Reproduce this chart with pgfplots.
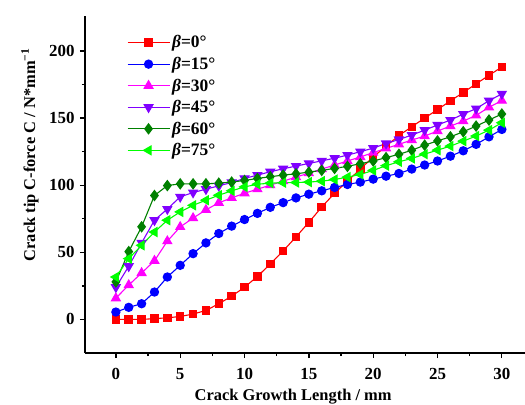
\documentclass[border=0pt]{standalone}
\usepackage{pgfplots}
\pgfplotsset{compat=1.18}
\usepackage{fontspec}
\setmainfont{Liberation Serif}
\definecolor{cRed}{RGB}{255,0,0}
\definecolor{cBlue}{RGB}{0,0,255}
\definecolor{cMag}{RGB}{255,0,255}
\definecolor{cPur}{RGB}{128,0,255}
\definecolor{cDG}{RGB}{0,128,0}
\definecolor{cLG}{RGB}{0,255,0}
\begin{document}
\begin{tikzpicture}
\begin{axis}[
  at={(0,0)}, anchor=south west,
  scale only axis, width=440bp, height=337bp,
  xmin=-2.4, xmax=31.8, ymin=-25, ymax=226,
  axis x line=bottom, axis y line=left,
  axis line style={-, line width=1.4bp},
  xtick={0,5,...,30}, ytick={0,50,...,200},
  minor tick num=1,
  tick align=outside,
  major tick length=5bp, minor tick length=3bp,
  tick style={line width=1.3bp, black},
  /pgf/number format/assume math mode=true,
  ticklabel style={font=\fontsize{17}{19}\selectfont\bfseries},
  xticklabel style={yshift=-7bp},
  yticklabel style={xshift=-2bp},
  xlabel={Crack Growth Length / mm},
  ylabel={Crack tip C-force C / N*mm\textsuperscript{−1}},
  label style={font=\fontsize{16.5}{18}\selectfont\bfseries},
  xlabel style={at={(axis description cs:0.473,-0.142)}, anchor=base},
  ylabel style={at={(axis description cs:-0.125,0.588)}, anchor=center},
  legend style={draw=none, fill=none, at={(axis description cs:0.095,0.948)}, anchor=north west,
    font=\fontsize{17.5}{19}\selectfont\bfseries, row sep=3.8bp, inner sep=0pt},
  legend cell align=left,
  legend image code/.code={\draw[mark repeat=2,mark phase=2] plot coordinates {(0bp,0bp) (21bp,0bp) (42bp,0bp)};},
  every axis plot/.append style={line width=1.1bp},
]
\addplot[cRed, mark=square*, mark size=3.7bp] coordinates {
(0,0) (1,0) (2,0) (3,0.6) (4,1.2) (5,2.2) (6,4) (7,6.7) (8,11.7) (9,17.3) (10,24)
(11,32) (12,41.3) (13,51) (14,61.5) (15,72.3) (16,83.7) (17,94) (18,103) (19,112) (20,121)
(21,129) (22,137) (23,143.5) (24,150) (25,156.3) (26,162.8) (27,169) (28,175.5) (29,181.8) (30,188)};
\addlegendentry{{\itshape β}=0°}
\addplot[cBlue, mark=*, mark size=4.1bp] coordinates {
(0,5.5) (1,9) (2,11.7) (3,20.4) (4,31.6) (5,40.3) (6,49) (7,57) (8,64) (9,69.5) (10,74.4)
(11,79) (12,83.5) (13,87) (14,90.5) (15,93.3) (16,95.8) (17,98.3) (18,100.5) (19,102.3) (20,104.5)
(21,106.7) (22,108.7) (23,112) (24,115) (25,118) (26,121.6) (27,125.6) (28,130.4) (29,136) (30,141.5)};
\addlegendentry{{\itshape β}=15°}
\addplot[cMag, mark=triangle*, mark size=5bp] coordinates {
(0,15.8) (1,25.6) (2,34.6) (3,43.7) (4,58.3) (5,68.9) (6,75.5) (7,81.6) (8,86.9) (9,90.5) (10,94)
(11,97) (12,100) (13,103) (14,106) (15,109) (16,112) (17,115) (18,118) (19,121) (20,124.2)
(21,127.4) (22,130.4) (23,133.6) (24,136.6) (25,140.3) (26,144) (27,147.7) (28,152) (29,158) (30,163)};
\addlegendentry{{\itshape β}=30°}
\addplot[cPur, mark=triangle*, mark options={rotate=180}, mark size=5bp] coordinates {
(0,24) (1,39.6) (2,57) (3,73.9) (4,82.2) (5,91.3) (6,94.5) (7,97) (8,99.5) (9,102) (10,105)
(11,107.5) (12,110) (13,112.2) (14,114.2) (15,116.2) (16,118.1) (17,120.1) (18,122.4) (19,124.9) (20,127.6)
(21,131) (22,134) (23,137.3) (24,141) (25,144.8) (26,148.5) (27,152.9) (28,157) (29,162.9) (30,168)};
\addlegendentry{{\itshape β}=45°}
\addplot[cDG, mark=diamond*, mark size=5bp] coordinates {
(0,28) (1,50.5) (2,69) (3,92.3) (4,99.7) (5,101) (6,101) (7,101) (8,101.5) (9,102.3) (10,103.5)
(11,105) (12,106.3) (13,107.5) (14,108.5) (15,109.7) (16,111) (17,112.5) (18,114) (19,116) (20,118)
(21,120.5) (22,123) (23,126) (24,129.8) (25,133) (26,136) (27,139.8) (28,144) (29,148.5) (30,153)};
\addlegendentry{{\itshape β}=60°}
\addplot[cLG, mark=triangle*, mark options={rotate=90}, mark size=5bp] coordinates {
(0,31.6) (1,45.3) (2,55.2) (3,65.1) (4,73.9) (5,80.1) (6,85) (7,88.8) (8,92.5) (9,95.8) (10,98.7)
(11,100.7) (12,101.5) (13,101.8) (14,102) (15,102.3) (16,103) (17,104.2) (18,106) (19,108) (20,111)
(21,114.5) (22,117.4) (23,119.9) (24,123.1) (25,126.1) (26,129.1) (27,132.8) (28,136.6) (29,141) (30,146.5)};
\addlegendentry{{\itshape β}=75°}
\end{axis}
\pgfresetboundingbox
\path[use as bounding box] (-85bp,-52bp) rectangle (440bp,353bp);
\end{tikzpicture}
\end{document}
